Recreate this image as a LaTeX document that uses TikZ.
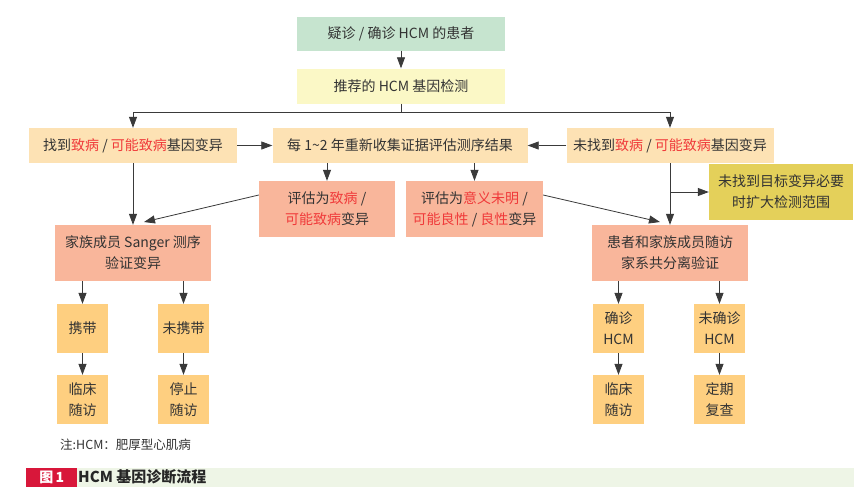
\documentclass[tikz,border=0pt]{standalone}
\usepackage{fontspec}
\setmainfont{Noto Sans CJK SC}
\usetikzlibrary{arrows.meta}
\definecolor{cGreen}{HTML}{C6E4CF}
\definecolor{cLYel}{HTML}{FBF8C6}
\definecolor{cLOr}{HTML}{FDE2B4}
\definecolor{cSalm}{HTML}{F9B69B}
\definecolor{cOlive}{HTML}{E4D05A}
\definecolor{cOr}{HTML}{FECF80}
\definecolor{redT}{HTML}{F03A3A}
\definecolor{txt}{HTML}{333333}
\definecolor{lineC}{HTML}{3A3A3A}
\definecolor{capRed}{HTML}{D8173A}
\definecolor{capGreen}{HTML}{EEF5E6}
\newcommand{\redtxt}[1]{\textcolor{redT}{#1}}
\begin{document}
\begin{tikzpicture}[x=1pt,y=-1pt,
  box/.style={inner sep=0pt, align=center, font=\fontsize{14}{21}\selectfont, text=txt},
  arr/.style={draw=lineC, line width=0.8pt, -{Triangle[length=11pt,width=8pt]}},
  ln/.style={draw=lineC, line width=0.8pt}]
\useasboundingbox (0,0) rectangle (863,496);
\fill[white] (0,0) rectangle (863,496);
% row 1, 2
\node[box, fill=cGreen, minimum width=208pt, minimum height=34pt] (n1) at (401,33.5) {疑诊 / 确诊 HCM 的患者};
\node[box, fill=cLYel, minimum width=208pt, minimum height=35pt] (n2) at (401,86) {推荐的 HCM 基因检测};
% row 3
\node[box, fill=cLOr, minimum width=208pt, minimum height=35pt] (L) at (133,145.5) {找到\redtxt{致病} / \redtxt{可能致病}基因变异};
\node[box, fill=cLOr, minimum width=255pt, minimum height=35pt] (M) at (400,145.5) {每 1\textasciitilde2 年重新收集证据评估测序结果};
\node[box, fill=cLOr, minimum width=207pt, minimum height=35pt] (R) at (670,145.5) {未找到\redtxt{致病} / \redtxt{可能致病}基因变异};
% row 4
\node[box, fill=cSalm, minimum width=136pt, minimum height=56pt] (S1) at (327,209) {评估为\redtxt{致病} /\\ \redtxt{可能致病}变异};
\node[box, fill=cSalm, minimum width=137pt, minimum height=56pt] (S2) at (474.5,209) {评估为\redtxt{意义未明} /\\ \redtxt{可能良性} / \redtxt{良性}变异};
\node[box, fill=cOlive, minimum width=144pt, minimum height=56pt] (Y) at (781,192) {未找到目标变异必要\\时扩大检测范围};
% row 5
\node[box, fill=cSalm, minimum width=156pt, minimum height=56pt] (F) at (133,253) {家族成员 Sanger 测序\\验证变异};
\node[box, fill=cSalm, minimum width=156pt, minimum height=56pt] (P) at (670,253) {患者和家族成员随访\\家系共分离验证};
% row 6
\node[box, fill=cOr, minimum width=51pt, minimum height=49pt] (c1) at (82.5,328.5) {携带};
\node[box, fill=cOr, minimum width=51pt, minimum height=49pt] (c2) at (183.5,328.5) {未携带};
\node[box, fill=cOr, minimum width=51pt, minimum height=49pt] (c3) at (618.5,328.5) {确诊\\HCM};
\node[box, fill=cOr, minimum width=51pt, minimum height=49pt] (c4) at (719.5,328.5) {未确诊\\HCM};
% row 7
\node[box, fill=cOr, minimum width=51pt, minimum height=49pt] (e1) at (82.5,399.5) {临床\\随访};
\node[box, fill=cOr, minimum width=51pt, minimum height=49pt] (e2) at (183.5,399.5) {停止\\随访};
\node[box, fill=cOr, minimum width=51pt, minimum height=49pt] (e3) at (618.5,399.5) {临床\\随访};
\node[box, fill=cOr, minimum width=51pt, minimum height=49pt] (e4) at (719.5,399.5) {定期\\复查};
% note and caption
\node[anchor=west, inner sep=0pt, text=txt, font=\fontsize{12.5}{14}\selectfont] (note) at (60,445) {注:HCM：肥厚型心肌病};
\node[anchor=west, fill=capGreen, minimum width=778pt, minimum height=19pt, inner sep=0pt] (capbar) at (76,477) {};
\node[anchor=west, fill=capRed, minimum width=51pt, minimum height=19pt, inner sep=0pt, text=white, font=\bfseries\fontsize{14}{15}\selectfont] (capfig) at (26,477) {图\,1};
\node[anchor=west, inner sep=0pt, text=black!85, font=\bfseries\fontsize{15}{16}\selectfont] (captxt) at (78,477) {HCM 基因诊断流程};
% connectors
\draw[arr] (n1) -- (n2);
\coordinate (split) at (401,112);
\draw[ln] (n2.south) -- (split);
\draw[arr] (split) -| (L.north);
\draw[arr] (split) -| (R.north);
\draw[arr] (L) -- (M);
\draw[arr] (R) -- (M);
\draw[arr] (S1.north |- M.south) -- (S1.north);
\draw[arr] (S2.north |- M.south) -- (S2.north);
\draw[arr] (L) -- (F);
\draw[arr] (R) -- (P);
\draw[arr] (R.south |- Y.west) -- (Y.west);
\coordinate (d1) at (144,222);
\coordinate (d2) at (660,222);
\draw[arr] ([yshift=14pt]S1.west) -- (d1);
\draw[arr] ([yshift=14pt]S2.east) -- (d2);
\draw[arr] (c1.north |- F.south) -- (c1.north);
\draw[arr] (c2.north |- F.south) -- (c2.north);
\draw[arr] (c3.north |- P.south) -- (c3.north);
\draw[arr] (c4.north |- P.south) -- (c4.north);
\draw[arr] (c1) -- (e1);
\draw[arr] (c2) -- (e2);
\draw[arr] (c3) -- (e3);
\draw[arr] (c4) -- (e4);
\end{tikzpicture}
\end{document}
